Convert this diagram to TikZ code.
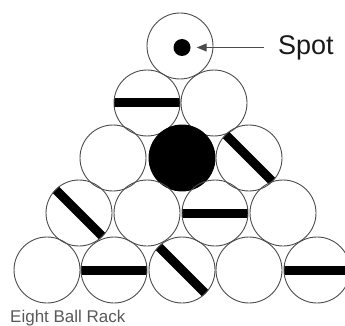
\documentclass[tikz,border=0pt]{standalone}
\usepackage{fontspec}
\setmainfont{Liberation Sans}
\usetikzlibrary{arrows.meta}
\tikzset{
  ball/.style={circle, draw=black!70, line width=0.9pt, minimum size=66pt, inner sep=0pt},
  hball/.style={ball, path picture={\draw[draw=black, line width=9pt] (path picture bounding box.west) -- (path picture bounding box.east);}},
  dball/.style={ball, path picture={\draw[draw=black, line width=9pt] (path picture bounding box.north west) -- (path picture bounding box.south east);}},
  eightball/.style={ball, fill=black, draw=black},
  spotdot/.style={circle, fill=black, minimum size=17pt, inner sep=0pt},
  lbl/.style={font=\fontsize{27}{32}\selectfont, text=black!90, inner sep=0pt},
  caption/.style={font=\fontsize{17}{20}\selectfont, text=black!65, inner sep=0pt},
  pointer/.style={draw=black!70, line width=1pt, -{Triangle[length=10pt,width=8pt]}}
}
\begin{document}
\begin{tikzpicture}[x=1pt, y=-1pt]
\useasboundingbox (0,0) rectangle (345,326);
% row 1
\node[ball] (b1) at (180,46) {};
\node[spotdot] (spot) at (182,47.5) {};
% row 2
\node[hball] (b2) at (147,103) {};
\node[ball] (b3) at (214,103) {};
% row 3
\node[ball] (b4) at (113,158) {};
\node[eightball] (b5) at (182,158) {};
\node[dball] (b6) at (249,158) {};
% row 4
\node[dball] (b7) at (79,213) {};
\node[ball] (b8) at (147,213) {};
\node[hball] (b9) at (215,213) {};
\node[ball] (b10) at (283,213) {};
% row 5
\node[ball] (b11) at (47,270) {};
\node[hball] (b12) at (114,270) {};
\node[dball] (b13) at (182,270) {};
\node[ball] (b14) at (249,270) {};
\node[hball] (b15) at (317,270) {};
% labels
\node[lbl, anchor=base west] (spotlbl) at (278,55) {Spot};
\draw[pointer, shorten <=14pt, shorten >=6pt] (spotlbl.west |- spot) -- (spot.east);
\node[caption, anchor=base west] (cap) at (10,322) {Eight Ball Rack};
\end{tikzpicture}
\end{document}
